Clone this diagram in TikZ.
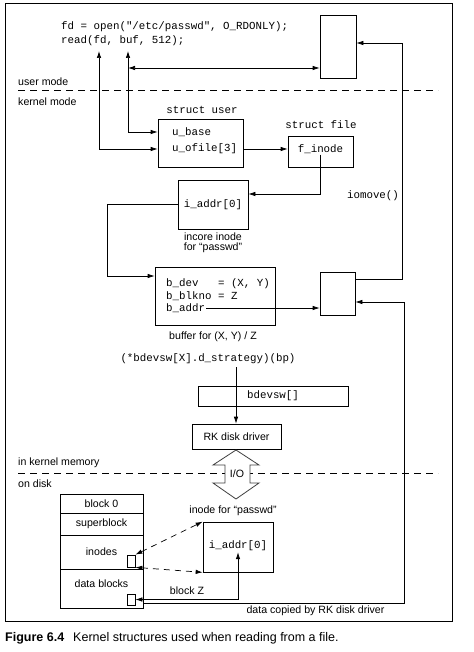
\documentclass[tikz,border=0pt]{standalone}
\usepackage{fontspec}
\setmainfont{Liberation Sans}
\setmonofont{Liberation Mono}
\usepackage{tikz}
\usetikzlibrary{arrows.meta,positioning}

\begin{document}
\begin{tikzpicture}[x=1pt,y=-1pt]
\tikzstyle{box}=[rectangle, draw=black, inner sep=0pt, line width=0.7pt]
\tikzstyle{code}=[font=\ttfamily\fontsize{10.8}{12}\selectfont, inner sep=1pt]
\tikzstyle{lbl}=[font=\fontsize{10.6}{10.5}\selectfont, inner sep=1pt]
\tikzstyle{connect}=[-{Latex[length=7pt,width=4.5pt]}, line width=0.7pt]
\tikzstyle{both}=[{Latex[length=7pt,width=4.5pt]}-{Latex[length=7pt,width=4.5pt]}, line width=0.7pt]
\tikzstyle{mode}=[dash pattern=on 7pt off 5pt, line width=0.7pt]
\useasboundingbox (0,0) rectangle (473,652);
\draw[line width=0.8pt] (5,3) rectangle (452,621);

  % user mode
  \node[code, anchor=west] (open) at (60,27) {fd = open("/etc/passwd", O\_RDONLY);};
  \node[code, anchor=west] (read) at (60,41) {read(fd, buf, 512);};
  \node[box, minimum width=36pt, minimum height=63pt] (ubuf) at (338,46.5) {};
  \draw[mode] (18,90.5) -- (438,90.5);
  \node[lbl, anchor=west] (user) at (17,81.5) {user mode};
  \node[lbl, anchor=west] (kernel) at (17,101.5) {kernel mode};

  % kernel structures
  \node[code] (suser) at (202,110) {struct user};
  \node[box, minimum width=85pt, minimum height=48pt] (ustruct) at (200.5,143) {};
  \node[code, anchor=west] (ubase) at (171,132) {u\_base};
  \node[code, anchor=west] (uofile) at (171,149) {u\_ofile[3]};
  \node[code] (sfilelbl) at (321,125) {struct file};
  \node[box, minimum width=65pt, minimum height=31pt] (sfile) at (320.5,151.5) {};
  \node[code] (finode) at (320.5,149) {f\_inode};
  \node[box, code, minimum width=70pt, minimum height=49pt] (iaddr) at (213,204.5) {i\_addr[0]};
  \node[lbl, align=center] (incore) at (213,243) {incore inode\\for “passwd”};
  \node[code] (iomove) at (373,196) {iomove()};
  \node[box, minimum width=120pt, minimum height=58pt] (buf) at (215,296) {};
  \node[code, anchor=west] (bdev) at (165,284) {b\_dev\ \ \ = (X, Y)};
  \node[code, anchor=west] (bblkno) at (165,296) {b\_blkno = Z};
  \node[code, anchor=west] (baddr) at (165,308) {b\_addr};
  \node[box, minimum width=35pt, minimum height=43pt] (kbuf) at (337.5,293.5) {};
  \node[lbl] (buflbl) at (213,337) {buffer for (X, Y) / Z};
  \node[code] (strat) at (208,359) {(*bdevsw[X].d\_strategy)(bp)};
  \node[code, box, minimum width=150pt, minimum height=20pt] (bdevsw) at (273,396) {bdevsw[]};
  \node[lbl, box, minimum width=89pt, minimum height=25pt] (rk) at (236.5,436.5) {RK disk driver};

  % disk
  \draw[mode] (18,473) -- (438,473);
  \node[lbl, anchor=west] (kmem) at (17,463) {in kernel memory};
  \node[lbl, anchor=west] (ondisk) at (17,483.5) {on disk};
  \draw[black!75, line width=0.8pt, fill=white] (236,450) -- (259,465) -- (250,465) -- (250,483)
    -- (259,483) -- (236,499) -- (213,483) -- (225,483) -- (225,465) -- (213,465) -- cycle;
  \node[lbl] (io) at (237,474) {I/O};
  \node[lbl, box, minimum width=83pt, minimum height=19pt] (blk0) at (101.5,503.5) {block 0};
  \node[lbl, box, minimum width=83pt, minimum height=22pt] (sblk) at (101.5,524) {superblock};
  \node[lbl, box, minimum width=83pt, minimum height=34pt] (inodes) at (101.5,552) {inodes};
  \node[lbl, box, minimum width=83pt, minimum height=39pt, text depth=9pt] (dblk) at (101.5,588.5) {data blocks};
  \node[box, minimum width=8pt, minimum height=12pt] (sqi) at (131,561) {};
  \node[box, minimum width=8pt, minimum height=11pt] (sqd) at (131,599.5) {};
  \node[lbl] (dinodelbl) at (233,511) {inode for “passwd”};
  \node[box, minimum width=70pt, minimum height=50pt] (dinode) at (238,547) {};
  \node[code] (daddr) at (238,546) {i\_addr[0]};
  \node[lbl] (blockz) at (187,590.5) {block Z};
  \node[lbl] (copied) at (315.5,610.5) {data copied by RK disk driver};

  \coordinate (fdarg) at (99,51);
  \coordinate (bufarg) at (128,51);
  \coordinate (copyy) at (128,68);
  \coordinate (fturn) at (320.5,194);
  \coordinate (bturn) at (107,276);
  \coordinate (stratout) at (236,367);
  \coordinate (kout) at (402,279);
  \coordinate (uin) at (402,43);
  \coordinate (dcopy) at (143,603.5);
  \coordinate (kin) at (404,302);

  \draw[both] (fdarg) |- (ustruct.west |- uofile);
  \draw[both] (bufarg) |- (ustruct.west |- ubase);
  \draw[both] (copyy) -- (copyy -| ubuf.west);
  \draw[connect] (ustruct.east |- uofile) -- (sfile.west |- uofile);
  \draw[connect] (finode.south) -- (fturn) -- (fturn -| iaddr.east);
  \draw[connect] (iaddr.west) -| (bturn) -- (bturn -| buf.west);
  \draw[connect] (baddr.east) -- (kbuf.west |- baddr);
  \draw[connect] (kout -| kbuf.east) -- (kout) -- (uin) -- (uin -| ubuf.east);
  \draw[connect] (stratout) -- (stratout |- rk.north);
  \draw[both, dash pattern=on 6pt off 5pt] (sqi.north east) -- (dinode.north west);
  \draw[both, dash pattern=on 6pt off 5pt] (sqi.south east) -- (dinode.south west);
  \draw[both] (sqd.east) -- (sqd.east -| daddr) -- (daddr.south);
  \draw[connect] (dcopy) -| (kin) -- (kin -| kbuf.east);

  \node[anchor=west, font=\fontsize{12.5}{14}\selectfont, inner sep=0pt] (caption) at (5,638)
    {\textbf{Figure 6.4}\hspace{9pt}Kernel structures used when reading from a file.};
\end{tikzpicture}
\end{document}
